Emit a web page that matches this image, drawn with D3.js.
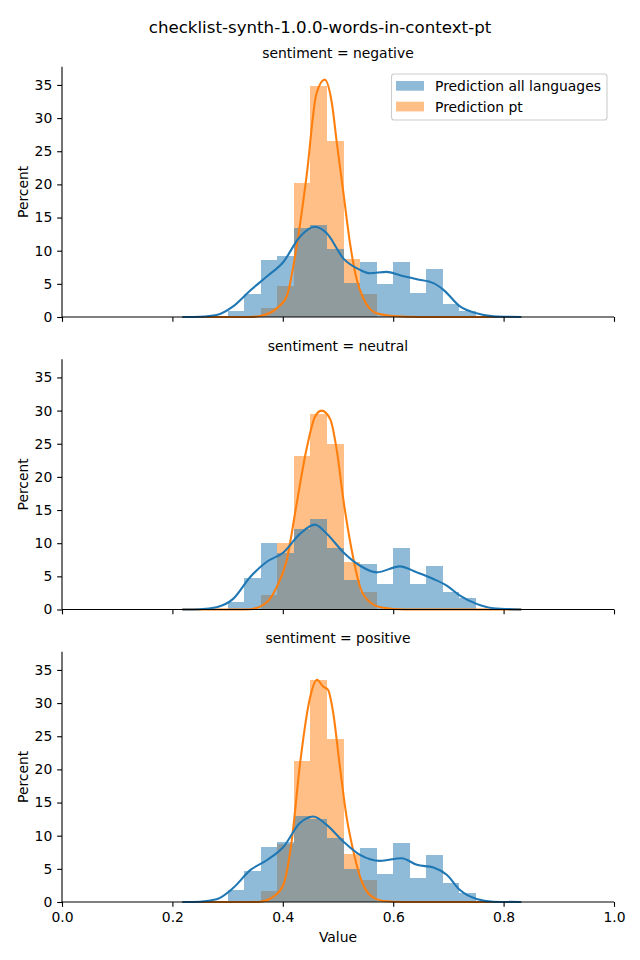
<!DOCTYPE html>
<html>
<head>
<meta charset="utf-8">
<script src="https://cdn.jsdelivr.net/npm/d3@7"></script>
<style>
  html, body { margin: 0; padding: 0; background: #ffffff; }
  svg { display: block; font-family: "DejaVu Sans", sans-serif; }
</style>
</head>
<body>
<div id="chart"></div>
<script>
// ---------------- DATA ----------------
const chartTitle = "checklist-synth-1.0.0-words-in-context-pt";
const facetLabels = ["sentiment = negative", "sentiment = neutral", "sentiment = positive"];
const seriesNames = ["Prediction all languages", "Prediction pt"];

// histogram bin edges (shared by both series)
const binEdges = [0.30, 0.33, 0.36, 0.39, 0.42, 0.45, 0.48, 0.51, 0.54, 0.57, 0.60, 0.63, 0.66, 0.69, 0.72, 0.75];

// percent per bin
const negAll = [0.9, 3.5, 8.6, 9.2, 13.4, 13.9, 10.25, 5.2, 8.3, 5.0, 8.3, 3.6, 7.2, 2.0, 0.9];
const negPt  = [0, 0, 1.4, 4.7, 20.2, 34.9, 26.6, 8.7, 3.5, 0, 0, 0, 0, 0, 0];
const neuAll = [1.2, 4.8, 10.1, 8.5, 12.2, 13.6, 9.3, 4.4, 6.9, 3.9, 9.2, 3.9, 6.5, 2.6, 1.7];
const neuPt  = [0, 0, 2.2, 10.1, 23.2, 29.5, 24.9, 7.1, 2.6, 0, 0, 0, 0, 0, 0];
const posAll = [1.8, 4.7, 8.3, 9.0, 13.0, 12.5, 9.6, 5.0, 8.1, 4.2, 8.9, 3.6, 7.1, 2.9, 1.4];
const posPt  = [0, 0, 1.7, 8.7, 21.3, 33.5, 24.6, 7.2, 3.3, 0, 0, 0, 0, 0, 0];

// KDE curves (x value, percent)
const negAllKdeX = [0.218, 0.25, 0.28, 0.31, 0.341, 0.371, 0.401, 0.431, 0.458, 0.48, 0.51, 0.54, 0.558, 0.588, 0.612, 0.643, 0.673, 0.691, 0.721, 0.751, 0.781, 0.832];
const negAllKdeY = [0, 0.05, 0.3, 1.6, 4.0, 6.1, 8.3, 12.1, 13.6, 12.6, 8.8, 7.1, 6.6, 6.8, 6.3, 5.7, 5.1, 4.1, 1.6, 0.55, 0.1, 0];
const negPtKdeX  = [0.218, 0.34, 0.359, 0.389, 0.407, 0.425, 0.443, 0.461, 0.476, 0.489, 0.498, 0.51, 0.522, 0.534, 0.546, 0.57, 0.6, 0.65, 0.832];
const negPtKdeY  = [0, 0, 0.15, 1.3, 3.1, 10.6, 21.2, 33.7, 35.8, 32.2, 26.2, 18.6, 11.0, 5.6, 2.8, 0.55, 0.15, 0, 0];

const neuAllKdeX = [0.218, 0.25, 0.28, 0.31, 0.341, 0.371, 0.401, 0.431, 0.458, 0.48, 0.51, 0.54, 0.57, 0.612, 0.643, 0.673, 0.697, 0.721, 0.751, 0.781, 0.832];
const neuAllKdeY = [0, 0.05, 0.35, 1.6, 4.9, 7.2, 8.6, 11.4, 12.8, 11.4, 8.6, 6.6, 5.6, 6.5, 5.6, 4.6, 3.6, 2.1, 0.85, 0.2, 0];
const neuPtKdeX  = [0.218, 0.32, 0.341, 0.371, 0.389, 0.407, 0.425, 0.443, 0.458, 0.47, 0.486, 0.498, 0.51, 0.525, 0.54, 0.558, 0.582, 0.62, 0.832];
const neuPtKdeY  = [0, 0, 0.05, 1.1, 3.4, 7.4, 15.9, 24.2, 29.0, 30.0, 28.7, 23.9, 16.4, 8.9, 3.4, 1.1, 0.25, 0, 0];

const posAllKdeX = [0.218, 0.25, 0.28, 0.31, 0.341, 0.371, 0.401, 0.431, 0.455, 0.48, 0.51, 0.54, 0.576, 0.615, 0.643, 0.673, 0.697, 0.721, 0.751, 0.781, 0.832];
const posAllKdeY = [0, 0.05, 0.4, 2.1, 4.8, 6.3, 8.3, 11.9, 12.9, 11.6, 9.1, 7.1, 6.2, 6.6, 5.6, 5.2, 4.1, 1.8, 0.45, 0.05, 0];
const posPtKdeX  = [0.218, 0.34, 0.359, 0.383, 0.401, 0.416, 0.431, 0.449, 0.462, 0.473, 0.482, 0.491, 0.503, 0.516, 0.528, 0.54, 0.558, 0.582, 0.62, 0.832];
const posPtKdeY  = [0, 0, 0.05, 0.8, 2.6, 9.1, 20.7, 30.7, 33.5, 32.5, 32.0, 28.7, 20.7, 12.6, 7.6, 3.8, 1.05, 0.15, 0, 0];

const xTicks = [0.0, 0.2, 0.4, 0.6, 0.8, 1.0];
const yTicks = [0, 5, 10, 15, 20, 25, 30, 35];
const yMax = 37.75;

// ---------------- LAYOUT / STYLE ----------------
const W = 640, H = 960;
const left = 62, right = 614;
const panelBottoms = [317, 609.5, 902];
const panelHeight = 250.3;
const blue = "#1f77b4", orange = "#ff7f0e";
const fontTick = "13.9px";

const facets = [
  {label: facetLabels[0], all: negAll, pt: negPt, allK: [negAllKdeX, negAllKdeY], ptK: [negPtKdeX, negPtKdeY]},
  {label: facetLabels[1], all: neuAll, pt: neuPt, allK: [neuAllKdeX, neuAllKdeY], ptK: [neuPtKdeX, neuPtKdeY]},
  {label: facetLabels[2], all: posAll, pt: posPt, allK: [posAllKdeX, posAllKdeY], ptK: [posPtKdeX, posPtKdeY]}
];

const svg = d3.select("#chart").append("svg")
  .attr("width", W).attr("height", H).attr("viewBox", `0 0 ${W} ${H}`);
svg.append("rect").attr("width", W).attr("height", H).attr("fill", "#fff");

const x = d3.scaleLinear().domain([0, 1]).range([left, right]);

svg.append("text").attr("x", 320).attr("y", 33).attr("text-anchor", "middle")
  .attr("font-size", "16.67px").attr("fill", "#000").text(chartTitle);

facets.forEach((f, i) => {
  const bottom = panelBottoms[i];
  const y = d3.scaleLinear().domain([0, yMax]).range([bottom, bottom - panelHeight]);
  const g = svg.append("g");

  const bins = d3.range(binEdges.length - 1).map(k => ({x0: binEdges[k], x1: binEdges[k + 1]}));

  // orange bars first, blue bars on top
  [[f.pt, orange], [f.all, blue]].forEach(([vals, col]) => {
    g.append("g").attr("shape-rendering", "crispEdges")
      .selectAll("rect").data(bins.map((b, k) => ({...b, v: vals[k]})).filter(d => d.v > 0))
      .join("rect")
      .attr("x", d => x(d.x0)).attr("width", d => x(d.x1) - x(d.x0))
      .attr("y", d => y(d.v)).attr("height", d => y(0) - y(d.v))
      .attr("fill", col).attr("fill-opacity", 0.5);
  });

  // KDE lines: orange first, blue on top
  const line = d3.line().x(d => x(d[0])).y(d => y(d[1])).curve(d3.curveMonotoneX);
  [[f.ptK, orange], [f.allK, blue]].forEach(([k, col]) => {
    const pts = k[0].map((xv, j) => [xv, k[1][j]]);
    g.append("path").attr("d", line(pts)).attr("fill", "none")
      .attr("stroke", col).attr("stroke-width", 2.08).attr("stroke-linejoin", "round").attr("stroke-linecap", "butt");
  });

  // Y axis
  const yAxis = d3.axisLeft(y).tickValues(yTicks).tickFormat(d3.format("d")).tickSize(4.86).tickPadding(4.86);
  const ya = g.append("g").attr("transform", `translate(${left},0)`).call(yAxis);
  ya.select(".domain").attr("d", `M0,${bottom}V${bottom - panelHeight}`).attr("stroke", "#000").attr("stroke-width", 1.1);
  ya.selectAll(".tick line").attr("stroke", "#000").attr("stroke-width", 1.1);
  ya.selectAll(".tick text").attr("font-size", fontTick).attr("font-family", "DejaVu Sans").attr("fill", "#000");

  // X axis
  const xAxis = d3.axisBottom(x).tickValues(xTicks).tickFormat(i === 2 ? d3.format(".1f") : () => "").tickSize(4.86).tickPadding(4.86);
  const xa = g.append("g").attr("transform", `translate(0,${bottom})`).call(xAxis);
  xa.select(".domain").attr("d", `M${left},0H${right}`).attr("stroke", "#000").attr("stroke-width", 1.1);
  xa.selectAll(".tick line").attr("stroke", "#000").attr("stroke-width", 1.1);
  xa.selectAll(".tick text").attr("font-size", fontTick).attr("font-family", "DejaVu Sans").attr("fill", "#000");

  // facet title
  svg.append("text").attr("x", (left + right) / 2).attr("y", bottom - panelHeight - 8.7)
    .attr("text-anchor", "middle").attr("font-size", fontTick).attr("fill", "#000").text(f.label);

  // y label
  svg.append("text").attr("transform", `translate(27.5,${bottom - panelHeight / 2}) rotate(-90)`)
    .attr("text-anchor", "middle").attr("font-size", fontTick).attr("fill", "#000").text("Percent");

  if (i === 0) {
    const lg = svg.append("g");
    lg.append("rect").attr("x", 391.5).attr("y", 74).attr("width", 215.5).attr("height", 46)
      .attr("rx", 2.8).attr("fill", "#fff").attr("fill-opacity", 0.8).attr("stroke", "#cccccc").attr("stroke-width", 1.1);
    [[blue, seriesNames[0]], [orange, seriesNames[1]]].forEach(([col, name], j) => {
      lg.append("rect").attr("x", 396).attr("y", 81 + j * 20.7).attr("width", 28).attr("height", 9.7)
        .attr("fill", col).attr("fill-opacity", 0.5);
      lg.append("text").attr("x", 435).attr("y", 91 + j * 20.7).attr("font-size", fontTick).attr("fill", "#000").text(name);
    });
  }
});

svg.append("text").attr("x", (left + right) / 2).attr("y", 942).attr("text-anchor", "middle")
  .attr("font-size", fontTick).attr("fill", "#000").text("Value");
</script>
</body>
</html>
